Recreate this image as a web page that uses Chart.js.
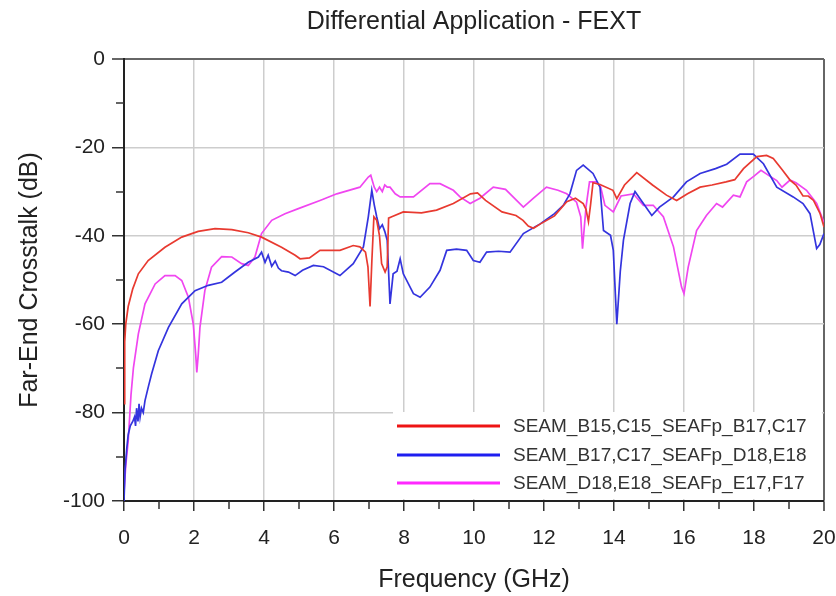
<!DOCTYPE html>
<html>
<head>
<meta charset="utf-8">
<script src="https://cdn.jsdelivr.net/npm/chart.js@4"></script>
<style>
  html, body { margin: 0; padding: 0; background: #ffffff; }
  #wrap { width: 836px; height: 596px; }
</style>
</head>
<body>
<div id="wrap"><canvas id="c" width="836" height="596"></canvas></div>
<script>
// ---------- data ----------
const chartTitle = 'Differential Application - FEXT';
const xTitle = 'Frequency (GHz)';
const yTitle = 'Far-End Crosstalk (dB)';
const seriesNames = ['SEAM_B15,C15_SEAFp_B17,C17', 'SEAM_B17,C17_SEAFp_D18,E18', 'SEAM_D18,E18_SEAFp_E17,F17'];
const xTickValues = [0, 2, 4, 6, 8, 10, 12, 14, 16, 18, 20];
const yTickValues = [-100, -80, -60, -40, -20, 0];

const redFreq = [0,0.02,0.05,0.12,0.25,0.41,0.69,1.17,1.65,2.12,
  2.6,3.08,3.55,3.93,4.5,4.89,5.03,5.3,5.6,6.17,
  6.55,6.74,6.9,6.97,7.03,7.08,7.14,7.22,7.3,7.36,
  7.46,7.52,7.56,7.65,7.98,8.5,8.93,9.41,9.9,10.1,
  10.33,10.8,11.2,11.4,11.55,11.7,11.9,12.3,12.65,12.9,
  13.12,13.2,13.27,13.33,13.4,13.6,13.97,14.08,14.3,14.65,
  15.1,15.5,15.79,16.1,16.46,16.8,17.2,17.45,17.7,18.08,
  18.36,18.55,18.8,19.03,19.2,19.4,19.55,19.7,19.89,20];
const redDb = [-78,-64,-60,-56,-52,-48.6,-45.6,-42.6,-40.3,-39,
  -38.4,-38.6,-39.3,-40.3,-42.6,-44.4,-45.2,-45,-43.3,-43.3,
  -42.2,-42.5,-43.7,-47,-56,-46,-35.7,-36.5,-40,-46.3,
  -48.2,-47,-36,-35.7,-34.6,-34.8,-34.2,-32.7,-30.5,-30.3,
  -32,-34.6,-35.4,-36.5,-37.8,-38.3,-37.3,-35.5,-32.3,-31.5,
  -32.7,-34,-36.8,-33,-28,-28.4,-29.7,-31.6,-28.5,-25.7,
  -28.5,-30.8,-32,-30.5,-29,-28.5,-27.8,-27.3,-24.8,-22.1,
  -21.8,-22.5,-25,-27.4,-28.5,-31,-31,-32,-35,-38];

const blueFreq = [0,0.03,0.08,0.12,0.18,0.25,0.3,0.33,0.36,0.4,
  0.43,0.46,0.5,0.55,0.6,0.7,0.79,0.98,1.27,1.65,
  2.03,2.41,2.79,3.17,3.55,3.84,3.93,4.03,4.12,4.22,
  4.32,4.41,4.5,4.7,4.89,5.1,5.41,5.7,6.17,6.55,
  6.84,6.98,7.08,7.15,7.22,7.3,7.38,7.45,7.52,7.6,
  7.69,7.8,7.89,7.98,8.27,8.46,8.74,9.03,9.22,9.5,
  9.79,9.98,10.17,10.36,10.7,11.03,11.41,11.89,12.3,12.55,
  12.74,12.93,13.12,13.4,13.6,13.7,13.9,13.98,14.08,14.18,
  14.27,14.46,14.6,14.84,15.08,15.3,15.7,16.07,16.46,16.9,
  17.22,17.6,17.98,18.27,18.65,19.12,19.4,19.6,19.79,19.88,
  20];
const blueDb = [-100,-93,-88,-85,-83,-82,-81,-83,-79,-82,
  -78,-81,-79,-80,-77.3,-74,-71.2,-66,-60.7,-55.4,
  -52.4,-51.2,-50.5,-48.2,-46,-44.8,-43.7,-46,-44.4,-46.9,
  -45.7,-47.3,-47.9,-48.2,-49,-47.8,-46.7,-47,-49,-46.3,
  -42.5,-35.7,-29.7,-33,-35.7,-38.4,-37.5,-39,-41,-55.4,
  -48.6,-48,-45.2,-48.6,-53.1,-53.9,-51.6,-47.8,-43.3,-43,
  -43.3,-45.6,-46,-43.7,-43.5,-43.7,-39.5,-37.3,-35,-33.1,
  -30.5,-25.2,-24,-25.9,-29,-38.8,-39.9,-43.3,-60,-48,
  -41,-32.7,-30,-32.7,-35.4,-33.5,-31.2,-27.8,-25.9,-24.8,
  -23.8,-21.5,-21.5,-23.7,-29,-31.2,-32.7,-35,-42.9,-42,
  -39.5];

const magFreq = [0,0.05,0.12,0.2,0.27,0.41,0.6,0.89,1.17,1.46,
  1.65,1.84,1.98,2.05,2.08,2.12,2.17,2.31,2.5,2.79,
  3.08,3.36,3.55,3.74,3.93,4.22,4.6,5.0,5.6,6.08,
  6.74,6.98,7.05,7.15,7.22,7.3,7.38,7.45,7.52,7.6,
  7.75,7.89,8.27,8.74,9.03,9.41,9.6,9.89,10.17,10.55,
  10.9,11.41,11.7,12.07,12.4,12.65,12.93,13.05,13.1,13.2,
  13.3,13.5,13.62,13.74,13.98,14.2,14.55,14.84,15.12,15.41,
  15.7,15.93,16.0,16.12,16.36,16.64,16.93,17.1,17.41,17.6,
  17.79,18.0,18.2,18.45,18.65,18.8,19.03,19.2,19.5,19.79,
  20];
const magDb = [-98,-92,-86.4,-76,-69.8,-62.2,-55.4,-50.9,-49,-49,
  -50.1,-53.9,-60,-67,-70.9,-67,-60.7,-52.4,-47.1,-44.7,
  -44.8,-46.3,-46.7,-44.8,-39.5,-36.5,-35,-33.8,-32,-30.5,
  -29,-26.7,-26.3,-29,-30,-29,-30,-28.5,-29,-29,
  -30.5,-31.2,-31.2,-28.2,-28.2,-29.7,-31.2,-32.7,-31.5,-29,
  -29.5,-33.5,-31.5,-29,-29.7,-30.5,-32.4,-35.7,-42.9,-33.5,
  -27.8,-27.8,-29,-33.1,-34.6,-31,-30.5,-33.1,-33.1,-35.7,
  -42.5,-51.6,-53.1,-47.1,-38.8,-35.4,-32.7,-33.5,-30.8,-31.2,
  -27.8,-26.5,-25.2,-26.5,-27.5,-29,-27.4,-28,-29.7,-32.7,
  -37];

const lineColors = ['rgb(232,58,48)', 'rgb(52,52,222)', 'rgb(240,70,240)'];
const legendColors = ['rgb(238,20,20)', 'rgb(30,30,240)', 'rgb(255,40,255)'];

function pts(xs, ys) { return xs.map((x, i) => ({ x: x, y: ys[i] })); }

const FONT = "'Liberation Sans', Arial, sans-serif";

// ---------- plugins ----------
const decor = {
  id: 'decor',
  afterDraw(chart) {
    const ctx = chart.ctx;
    const xs = chart.scales.x, ys = chart.scales.y;
    const a = chart.chartArea;
    ctx.save();
    ctx.strokeStyle = '#333';
    ctx.lineWidth = 1.5;
    ctx.beginPath();
    for (let v = 1; v < 20; v += 2) {
      const px = Math.round(xs.getPixelForValue(v));
      ctx.moveTo(px, a.bottom); ctx.lineTo(px, a.bottom + 8);
    }
    for (let v = -90; v < 0; v += 20) {
      const py = Math.round(ys.getPixelForValue(v));
      ctx.moveTo(a.left, py); ctx.lineTo(a.left - 8, py);
    }
    ctx.stroke();
    ctx.fillStyle = '#222';
    ctx.font = '25px ' + FONT;
    ctx.textAlign = 'center';
    ctx.textBaseline = 'middle';
    ctx.fillText(chartTitle, (a.left + a.right) / 2, 22);
    ctx.restore();
  },
  afterDatasetsDraw(chart) {
    const ctx = chart.ctx;
    const a = chart.chartArea;
    ctx.save();
    ctx.fillStyle = '#ffffff';
    ctx.fillRect(393, 412, a.right - 2 - 393, a.bottom - 2 - 412);
    const rows = [426, 455, 483];
    ctx.font = '19px ' + FONT;
    ctx.textAlign = 'left';
    ctx.textBaseline = 'middle';
    chart.data.datasets.forEach((ds, i) => {
      ctx.strokeStyle = legendColors[i];
      ctx.lineWidth = 3;
      ctx.beginPath();
      ctx.moveTo(397, rows[i]); ctx.lineTo(500, rows[i]);
      ctx.stroke();
      ctx.fillStyle = '#333';
      ctx.fillText(ds.label, 513, rows[i] + 1);
    });
    ctx.restore();
  }
};

new Chart(document.getElementById('c'), {
  type: 'line',
  data: {
    datasets: [
      { label: seriesNames[0], data: pts(redFreq, redDb), borderColor: lineColors[0] },
      { label: seriesNames[1], data: pts(blueFreq, blueDb), borderColor: lineColors[1] },
      { label: seriesNames[2], data: pts(magFreq, magDb), borderColor: lineColors[2] }
    ]
  },
  options: {
    responsive: false,
    animation: false,
    devicePixelRatio: 1,
    layout: { padding: { left: 0, right: 12, top: 59, bottom: 0 } },
    elements: {
      point: { radius: 0 },
      line: { borderWidth: 1.7, tension: 0, fill: false }
    },
    plugins: {
      legend: { display: false },
      title: { display: false },
      tooltip: { enabled: false }
    },
    scales: {
      x: {
        type: 'linear',
        min: 0, max: 20,
        afterBuildTicks: (s) => { s.ticks = xTickValues.map(v => ({ value: v })); },
        afterFit: (s) => { s.height = 95; s.paddingLeft = 0; s.paddingRight = 0; },
        ticks: { color: '#222', font: { size: 21, family: FONT }, padding: 15, maxRotation: 0 },
        grid: {
          color: (c) => (c.tick && c.tick.value === 20) ? '#666' : '#cdcdcd',
          lineWidth: (c) => (c.tick && c.tick.value === 20) ? 2 : 1.5,
          tickColor: '#333', tickWidth: 1.5, tickLength: 10
        },
        border: { color: '#222', width: 2 },
        title: { display: true, text: xTitle, color: '#222', font: { size: 25, family: FONT }, padding: { top: 0, bottom: 1 } }
      },
      y: {
        min: -100, max: 0,
        afterBuildTicks: (s) => { s.ticks = yTickValues.map(v => ({ value: v })); },
        afterFit: (s) => { s.width = 124; s.paddingTop = 0; s.paddingBottom = 0; },
        ticks: { color: '#222', font: { size: 21, family: FONT }, padding: 7 },
        grid: {
          color: (c) => (c.tick && c.tick.value === 0) ? '#666' : '#cdcdcd',
          lineWidth: (c) => (c.tick && c.tick.value === 0) ? 2 : 1.5,
          tickColor: '#333', tickWidth: 1.5, tickLength: 12
        },
        border: { color: '#222', width: 2 },
        title: { display: true, text: yTitle, color: '#222', font: { size: 25, family: FONT }, padding: { top: 15, bottom: 0 } }
      }
    }
  },
  plugins: [decor]
});
</script>
</body>
</html>
